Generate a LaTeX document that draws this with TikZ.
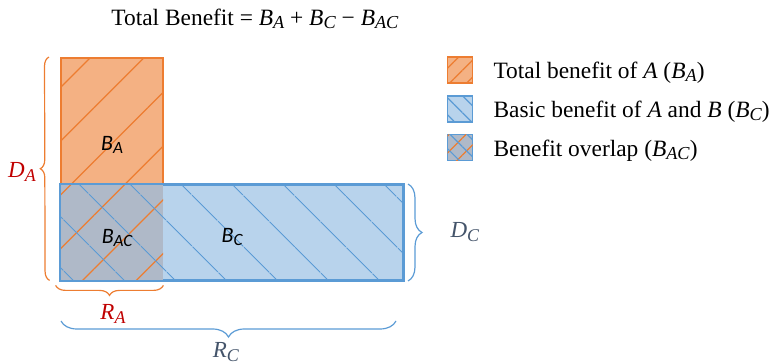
\documentclass[tikz,border=0pt]{standalone}
\usepackage{fontspec}
\setmainfont{Liberation Serif}
\newfontfamily\calibri{Carlito}
\usepackage{xcolor}
\usepackage{tikz}
\usetikzlibrary{patterns.meta, decorations.pathreplacing, positioning, calc}
\definecolor{orangeline}{HTML}{ED7D31}
\definecolor{orangefill}{HTML}{F4B183}
\definecolor{blueline}{HTML}{5B9BD5}
\definecolor{bluefill}{HTML}{B8D3EC}
\definecolor{overlapfill}{HTML}{AFB9C8}
\definecolor{labelred}{HTML}{C00000}
\definecolor{labelgray}{HTML}{44546A}
\newcommand{\bsub}[2]{\textit{#1}\raisebox{-0.3ex}{\scalebox{0.78}{\textit{#2}}}}

\begin{document}
\begin{tikzpicture}[x=0.5pt, y=-0.5pt,
    hatchA/.style={pattern={Lines[angle=45, distance=#1, line width=0.6pt]}, pattern color=orangeline},
    hatchC/.style={pattern={Lines[angle=-45, distance=#1, line width=0.6pt]}, pattern color=blueline},
    areaA/.style={draw=orangeline, line width=1pt, inner sep=0, preaction={fill=orangefill}, postaction={hatchA=19pt}},
    areaC/.style={draw=blueline, line width=1pt, inner sep=0, preaction={fill=bluefill}, postaction={hatchC=18.5pt}},
    overlap/.style={inner sep=0, preaction={fill=overlapfill}, postaction={hatchA=19pt}, postaction={hatchC=18.5pt}},
    legA/.style={draw=orangeline, line width=0.6pt, minimum width=12.5pt, minimum height=13pt, inner sep=0, preaction={fill=orangefill}, postaction={hatchA=6pt}},
    legC/.style={draw=blueline, line width=0.6pt, minimum width=12.5pt, minimum height=13pt, inner sep=0, preaction={fill=bluefill}, postaction={hatchC=6pt}},
    legAC/.style={draw=blueline, line width=0.6pt, minimum width=12.5pt, minimum height=13pt, inner sep=0, preaction={fill=overlapfill}, postaction={hatchA=6pt}, postaction={hatchC=6pt}},
    legtext/.style={anchor=west, inner sep=0, yshift=-1.5pt, font=\fontsize{11.7}{13}\selectfont},
    intext/.style={font=\calibri\fontsize{11}{12}\selectfont\itshape},
    dimred/.style={text=labelred, font=\fontsize{11.5}{13}\selectfont},
    dimgray/.style={text=labelgray, font=\fontsize{11.5}{13}\selectfont},
    braceA/.style={draw=orangeline, line width=0.6pt, decorate, decoration={brace, amplitude=#1}},
    braceC/.style={draw=blueline, line width=0.6pt, decorate, decoration={brace, amplitude=#1}}
]
    \useasboundingbox (0,0) rectangle (771,363);

    \node[font=\fontsize{11.7}{13}\selectfont] (title) at (255,19) {Total Benefit = \bsub{B}{A} + \bsub{B}{C} − \bsub{B}{AC}};

    % areas
    \node[areaA, minimum width=51pt, minimum height=111pt] (ba) at (112,169) {};
    \node[areaC, minimum width=171pt, minimum height=47.5pt] (bc) at (232,232.5) {};
    \node[overlap, minimum width=51pt, minimum height=47.5pt] (bac) at (112,232.5) {};
    \draw[blueline, line width=1pt] (bc.south west) rectangle (bc.north east);

    \node[intext] (tba) at (112,145) {\bsub{B}{A}};
    \node[intext] (tbac) at (117,238) {\bsub{B}{AC}};
    \node[intext] (tbc) at (232,237) {\bsub{B}{C}};

    % dimensions
    \draw[braceA=4.5pt] ([xshift=-5.5pt]bac.south west) -- ([xshift=-5.5pt]ba.north west);
    \node[dimred] (da) at (22,172) {\bsub{D}{A}};
    \draw[braceA=5pt] ([yshift=-2.5pt]bac.south east) -- ([xshift=-2.5pt, yshift=-2.5pt]bac.south west);
    \node[dimred] (ra) at (113,314) {\bsub{R}{A}};
    \draw[braceC=8pt] ([xshift=-4pt, yshift=-20pt]bc.south east) -- ([xshift=0.5pt, yshift=-20pt]bc.south west);
    \node[dimgray] (rc) at (226,352) {\bsub{R}{C}};
    \draw[braceC=7pt] ([xshift=2pt]bc.north east) -- ([xshift=2pt]bc.south east);
    \node[dimgray] (dc) at (465,232) {\bsub{D}{C}};

    % legend
    \node[legA] (la) at (460,70) {};
    \node[legC] (lc) at (460,109) {};
    \node[legAC] (lac) at (460,147.5) {};
    \node[legtext, right=10pt of la] (ta) {Total benefit of \textit{A} (\bsub{B}{A})};
    \node[legtext, right=10pt of lc] (tc) {Basic benefit of \textit{A} and \textit{B} (\bsub{B}{C})};
    \node[legtext, right=10pt of lac] (tac) {Benefit overlap (\bsub{B}{AC})};
\end{tikzpicture}
\end{document}
